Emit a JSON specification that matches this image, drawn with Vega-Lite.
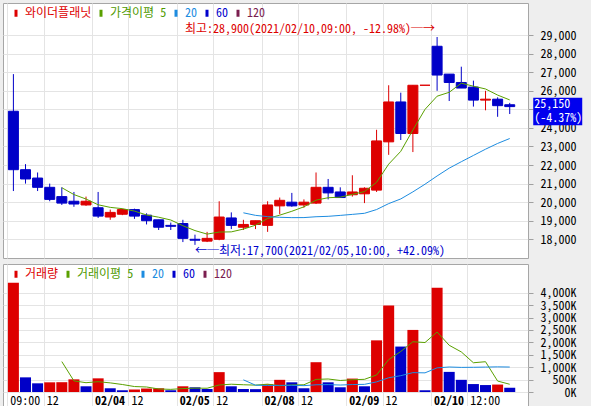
{
  "$schema": "https://vega.github.io/schema/vega-lite/v6.json",
  "background": "#eeeeee",
  "padding": {"left": 2, "top": 2, "right": 8, "bottom": 0},
  "spacing": 4,
  "config": {
    "font": "'Noto Sans Mono CJK KR', 'Noto Sans CJK KR', 'DejaVu Sans Mono', monospace",
    "view": {"fill": "white", "stroke": "#a6a6a6", "strokeWidth": 1},
    "axis": {"labelFontSize": 12, "labelColor": "#000000", "gridColor": "#e4e4e4", "gridWidth": 1, "domain": false, "title": null, "tickColor": "#a0a0a0", "labelOverlap": false, "labelBound": false, "labelFlush": false},
    "legend": {"orient": "top-left", "offset": 4, "direction": "horizontal", "symbolType": "M0,-1V1", "symbolSize": 49, "symbolStrokeWidth": 3, "symbolOffset": 3, "labelOffset": 3, "columnPadding": 0, "labelFontSize": 12, "padding": 0, "labelLimit": 200}
  },
  "datasets": {
    "candles": [
      {"i":0,"t":"02/03 09:00","o":24900,"h":26900,"l":20600,"c":21750,"v":4400000,"vdir":"up"},
      {"i":1,"t":"02/03 10:00","o":21750,"h":22050,"l":21000,"c":21250,"v":590000,"vdir":"down"},
      {"i":2,"t":"02/03 11:00","o":21300,"h":21600,"l":20600,"c":20800,"v":350000,"vdir":"down"},
      {"i":3,"t":"02/03 12:00","o":20800,"h":21000,"l":20050,"c":20150,"v":390000,"vdir":"up"},
      {"i":4,"t":"02/03 13:00","o":20300,"h":20800,"l":19850,"c":19950,"v":395000,"vdir":"up"},
      {"i":5,"t":"02/03 14:00","o":20050,"h":20550,"l":19750,"c":19900,"v":510000,"vdir":"up"},
      {"i":6,"t":"02/03 15:00","o":19850,"h":20300,"l":19800,"c":20050,"v":230000,"vdir":"down"},
      {"i":7,"t":"02/04 09:00","o":19700,"h":20550,"l":19150,"c":19250,"v":550000,"vdir":"up"},
      {"i":8,"t":"02/04 10:00","o":19200,"h":19600,"l":19050,"c":19450,"v":150000,"vdir":"down"},
      {"i":9,"t":"02/04 11:00","o":19350,"h":19650,"l":19300,"c":19600,"v":70000,"vdir":"down"},
      {"i":10,"t":"02/04 12:00","o":19600,"h":19650,"l":19100,"c":19250,"v":100000,"vdir":"up"},
      {"i":11,"t":"02/04 13:00","o":19300,"h":19400,"l":18800,"c":19000,"v":140000,"vdir":"up"},
      {"i":12,"t":"02/04 14:00","o":19050,"h":19050,"l":18500,"c":18650,"v":150000,"vdir":"up"},
      {"i":13,"t":"02/04 15:00","o":18750,"h":18900,"l":18500,"c":18700,"v":70000,"vdir":"down"},
      {"i":14,"t":"02/05 09:00","o":18850,"h":19050,"l":17850,"c":18050,"v":230000,"vdir":"up"},
      {"i":15,"t":"02/05 10:00","o":18000,"h":18250,"l":17700,"c":17950,"v":190000,"vdir":"down"},
      {"i":16,"t":"02/05 11:00","o":17900,"h":18400,"l":17850,"c":18050,"v":120000,"vdir":"down"},
      {"i":17,"t":"02/05 12:00","o":18000,"h":20050,"l":17950,"c":19200,"v":800000,"vdir":"up"},
      {"i":18,"t":"02/05 13:00","o":19150,"h":19450,"l":18550,"c":18750,"v":230000,"vdir":"down"},
      {"i":19,"t":"02/05 14:00","o":18650,"h":19050,"l":18500,"c":18800,"v":120000,"vdir":"down"},
      {"i":20,"t":"02/05 15:00","o":18800,"h":19000,"l":18550,"c":19000,"v":115000,"vdir":"down"},
      {"i":21,"t":"02/08 09:00","o":18750,"h":20050,"l":18400,"c":19850,"v":310000,"vdir":"up"},
      {"i":22,"t":"02/08 10:00","o":19800,"h":20250,"l":19350,"c":20100,"v":490000,"vdir":"up"},
      {"i":23,"t":"02/08 11:00","o":20000,"h":20500,"l":19750,"c":19800,"v":390000,"vdir":"down"},
      {"i":24,"t":"02/08 12:00","o":19850,"h":20150,"l":19700,"c":20000,"v":150000,"vdir":"down"},
      {"i":25,"t":"02/08 13:00","o":19950,"h":21600,"l":19900,"c":20800,"v":1200000,"vdir":"up"},
      {"i":26,"t":"02/08 14:00","o":20800,"h":21250,"l":20150,"c":20500,"v":390000,"vdir":"down"},
      {"i":27,"t":"02/08 15:00","o":20550,"h":20800,"l":20250,"c":20250,"v":190000,"vdir":"down"},
      {"i":28,"t":"02/09 09:00","o":20400,"h":21450,"l":20300,"c":20550,"v":540000,"vdir":"up"},
      {"i":29,"t":"02/09 10:00","o":20450,"h":20800,"l":19950,"c":20750,"v":230000,"vdir":"down"},
      {"i":30,"t":"02/09 11:00","o":20650,"h":23900,"l":20550,"c":23300,"v":2080000,"vdir":"up"},
      {"i":31,"t":"02/09 12:00","o":23250,"h":26300,"l":22550,"c":25400,"v":3480000,"vdir":"up"},
      {"i":32,"t":"02/09 13:00","o":25400,"h":25900,"l":23350,"c":23700,"v":1830000,"vdir":"down"},
      {"i":33,"t":"02/09 14:00","o":23700,"h":26300,"l":22700,"c":26300,"v":2500000,"vdir":"up"},
      {"i":34,"t":"02/09 15:00","o":26300,"h":26300,"l":26300,"c":26300,"v":70000,"vdir":"down"},
      {"i":35,"t":"02/10 09:00","o":28400,"h":28900,"l":26000,"c":26850,"v":4200000,"vdir":"up"},
      {"i":36,"t":"02/10 10:00","o":26900,"h":26900,"l":25450,"c":26450,"v":810000,"vdir":"down"},
      {"i":37,"t":"02/10 11:00","o":26450,"h":27300,"l":26150,"c":26150,"v":490000,"vdir":"down"},
      {"i":38,"t":"02/10 12:00","o":26200,"h":26550,"l":25150,"c":25500,"v":320000,"vdir":"down"},
      {"i":39,"t":"02/10 13:00","o":25500,"h":26000,"l":24950,"c":25550,"v":280000,"vdir":"down"},
      {"i":40,"t":"02/10 14:00","o":25550,"h":25650,"l":24600,"c":25200,"v":300000,"vdir":"up"},
      {"i":41,"t":"02/10 15:00","o":25250,"h":25350,"l":24750,"c":25150,"v":170000,"vdir":"down"}
    ],
    "hi": [{"i":35,"p":28900,"label":"최고:28,900(2021/02/10,09:00, -12.98%)─→"}],
    "lo": [{"i":15,"p":17700,"label":"←─최저:17,700(2021/02/05,10:00, +42.09%)"}],
    "last": [{"i":41,"c":25150,"label":"25,150\n(-4.37%)"}]
  },
  "vconcat": [
    {
      "width": 525,
      "height": 255,
      "data": {"name": "candles"},
      "encoding": {
        "x": {"field": "i", "type": "quantitative", "scale": {"domain": [-0.4457, 42.096], "nice": false, "zero": false},
              "axis": {"orient": "bottom", "values": [-0.5, 2.5, 6.5, 9.5, 13.5, 16.5, 20.5, 23.5, 27.5, 30.5, 34.5, 37.5], "grid": true, "labels": false, "ticks": false, "domain": false}}
      },
      "layer": [
        {
          "mark": {"type": "rule", "strokeWidth": 1},
          "encoding": {
            "y": {"field": "l", "type": "quantitative", "scale": {"domain": [16992, 30732], "nice": false, "zero": false},
                  "axis": {"orient": "right", "values": [18000,19000,20000,21000,22000,23000,24000,25000,26000,27000,28000,29000], "labelExpr": "format(datum.value, ',')", "tickSize": 5, "labelPadding": 43, "labelAlign": "right", "labelBaseline": "middle", "grid": true, "labelOverlap": false, "labelBound": false}},
            "y2": {"field": "h"},
            "stroke": {"condition": {"test": "datum.c >= datum.o", "value": "#dd0000"}, "value": "#0000c8"}
          }
        },
        {
          "mark": {"type": "bar", "width": 10, "strokeWidth": 1},
          "encoding": {
            "y": {"field": "o", "type": "quantitative",
                  "axis": {"orient": "right", "values": [18000,19000,20000,21000,22000,23000,24000,25000,26000,27000,28000,29000], "labelExpr": "format(datum.value, ',')", "tickSize": 5, "labelPadding": 43, "labelAlign": "right", "labelBaseline": "middle", "grid": true, "labelOverlap": false, "labelBound": false}},
            "y2": {"field": "c"},
            "fill": {"condition": {"test": "datum.c >= datum.o", "value": "#dd0000"}, "value": "#0000c8"},
            "stroke": {"condition": {"test": "datum.c >= datum.o", "value": "#dd0000"}, "value": "#0000c8"}
          }
        },
        {
          "transform": [
            {"window": [{"op": "mean", "field": "c", "as": "ma"}, {"op": "count", "field": "c", "as": "n"}], "frame": [-4, 0], "sort": [{"field": "i", "order": "ascending"}]},
            {"filter": "datum.n >= 5"}
          ],
          "mark": {"type": "line", "strokeWidth": 1},
          "encoding": {
            "y": {"field": "ma", "type": "quantitative",
                  "axis": {"orient": "right", "values": [18000,19000,20000,21000,22000,23000,24000,25000,26000,27000,28000,29000], "labelExpr": "format(datum.value, ',')", "tickSize": 5, "labelPadding": 43, "labelAlign": "right", "labelBaseline": "middle", "grid": true, "labelOverlap": false, "labelBound": false}},
            "stroke": {"datum": "가격이평 5", "type": "nominal",
                       "scale": {"domain": ["와이더플래닛", "가격이평 5", "20", "60", "120"], "range": ["#dd0000", "#5aa000", "#1d8ce0", "#0000cc", "#7b1e4f"]},
                       "legend": {"title": null, "encode": {"labels": {"update": {"fill": {"signal": "['#dd0000','#4f9a00','#1d8ce0','#0000cc','#7b1e4f'][indexof(['와이더플래닛','가격이평 5','20','60','120','거래량','거래이평 5'], datum.label) % 5]"}}}}}}
          }
        },
        {
          "transform": [
            {"window": [{"op": "mean", "field": "c", "as": "ma"}, {"op": "count", "field": "c", "as": "n"}], "frame": [-19, 0], "sort": [{"field": "i", "order": "ascending"}]},
            {"filter": "datum.n >= 20"}
          ],
          "mark": {"type": "line", "strokeWidth": 1},
          "encoding": {
            "y": {"field": "ma", "type": "quantitative",
                  "axis": {"orient": "right", "values": [18000,19000,20000,21000,22000,23000,24000,25000,26000,27000,28000,29000], "labelExpr": "format(datum.value, ',')", "tickSize": 5, "labelPadding": 43, "labelAlign": "right", "labelBaseline": "middle", "grid": true, "labelOverlap": false, "labelBound": false}},
            "stroke": {"datum": "20", "type": "nominal"}
          }
        },
        {
          "data": {"name": "hi"},
          "mark": {"type": "text", "align": "right", "baseline": "middle", "dx": -2, "dy": -8, "fontSize": 12, "fill": "#dd0000"},
          "encoding": {
            "y": {"field": "p", "type": "quantitative",
                  "axis": {"orient": "right", "values": [18000,19000,20000,21000,22000,23000,24000,25000,26000,27000,28000,29000], "labelExpr": "format(datum.value, ',')", "tickSize": 5, "labelPadding": 43, "labelAlign": "right", "labelBaseline": "middle", "grid": true, "labelOverlap": false, "labelBound": false}},
            "text": {"field": "label"}
          }
        },
        {
          "data": {"name": "lo"},
          "mark": {"type": "text", "align": "left", "baseline": "middle", "dx": 0, "dy": 6, "fontSize": 12, "fill": "#0000cc"},
          "encoding": {
            "y": {"field": "p", "type": "quantitative",
                  "axis": {"orient": "right", "values": [18000,19000,20000,21000,22000,23000,24000,25000,26000,27000,28000,29000], "labelExpr": "format(datum.value, ',')", "tickSize": 5, "labelPadding": 43, "labelAlign": "right", "labelBaseline": "middle", "grid": true, "labelOverlap": false, "labelBound": false}},
            "text": {"field": "label"}
          }
        },
        {
          "data": {"name": "last"},
          "mark": {"type": "point", "shape": "M2.35,-0.89H7.25V1.87H2.35Z", "size": 400, "filled": true, "fill": "#0000ee", "opacity": 1, "strokeWidth": 0},
          "encoding": {
            "y": {"field": "c", "type": "quantitative",
                  "axis": {"orient": "right", "values": [18000,19000,20000,21000,22000,23000,24000,25000,26000,27000,28000,29000], "labelExpr": "format(datum.value, ',')", "tickSize": 5, "labelPadding": 43, "labelAlign": "right", "labelBaseline": "middle", "grid": true, "labelOverlap": false, "labelBound": false}}
          }
        },
        {
          "data": {"name": "last"},
          "mark": {"type": "text", "align": "left", "baseline": "top", "dx": 24.5, "dy": -8, "lineBreak": "\n", "lineHeight": 14, "fontSize": 12, "fill": "#ffffff"},
          "encoding": {
            "y": {"field": "c", "type": "quantitative",
                  "axis": {"orient": "right", "values": [18000,19000,20000,21000,22000,23000,24000,25000,26000,27000,28000,29000], "labelExpr": "format(datum.value, ',')", "tickSize": 5, "labelPadding": 43, "labelAlign": "right", "labelBaseline": "middle", "grid": true, "labelOverlap": false, "labelBound": false}},
            "text": {"field": "label"}
          }
        }
      ]
    },
    {
      "width": 525,
      "height": 145,
      "data": {"name": "candles"},
      "encoding": {
        "x": {"field": "i", "type": "quantitative", "scale": {"domain": [-0.4457, 42.096], "nice": false, "zero": false},
              "axis": {"orient": "bottom", "values": [-0.5, 2.5, 6.5, 9.5, 13.5, 16.5, 20.5, 23.5, 27.5, 30.5, 34.5, 37.5],
                       "labelExpr": "['09:00','12','02/04','12','02/05','12','02/08','12','02/09','12','02/10','12:00'][indexof([-0.5,2.5,6.5,9.5,13.5,16.5,20.5,23.5,27.5,30.5,34.5,37.5], datum.value)]",
                       "labelFontWeight": {"condition": {"test": "indexof([6.5,13.5,20.5,27.5,34.5], datum.value) >= 0", "value": "bold"}, "value": "normal"},
                       "grid": true, "ticks": false, "domain": false, "labelAlign": "left", "labelBaseline": "top", "labelPadding": -14, "labelOffset": 2.5, "labelOverlap": false, "labelBound": false}}
      },
      "layer": [
        {
          "mark": {"type": "bar", "width": 11},
          "encoding": {
            "y": {"field": "v", "type": "quantitative", "scale": {"domain": [-684600, 5155000], "nice": false, "zero": false},
                  "axis": {"orient": "right", "values": [0,500000,1000000,1500000,2000000,2500000,3000000,3500000,4000000], "labelExpr": "format(datum.value/1000, ',') + 'K'", "tickSize": 5, "labelPadding": 43, "labelAlign": "right", "labelBaseline": "middle", "grid": true, "labelOverlap": false, "labelBound": false,
                           "encode": {"labels": {"update": {"dy": {"signal": "datum.value === 0 ? -5 : -1.5"}}}}}},
            "y2": {"datum": 0},
            "fill": {"condition": {"test": "datum.vdir === 'up'", "value": "#dd0000"}, "value": "#0000c8"}
          }
        },
        {
          "transform": [
            {"window": [{"op": "mean", "field": "v", "as": "ma"}, {"op": "count", "field": "v", "as": "n"}], "frame": [-4, 0], "sort": [{"field": "i", "order": "ascending"}]},
            {"filter": "datum.n >= 5"}
          ],
          "mark": {"type": "line", "strokeWidth": 1},
          "encoding": {
            "y": {"field": "ma", "type": "quantitative",
                  "axis": {"orient": "right", "values": [0,500000,1000000,1500000,2000000,2500000,3000000,3500000,4000000], "labelExpr": "format(datum.value/1000, ',') + 'K'", "tickSize": 5, "labelPadding": 43, "labelAlign": "right", "labelBaseline": "middle", "grid": true, "labelOverlap": false, "labelBound": false,
                           "encode": {"labels": {"update": {"dy": {"signal": "datum.value === 0 ? -5 : -1.5"}}}}}},
            "stroke": {"datum": "거래이평 5", "type": "nominal",
                       "scale": {"domain": ["거래량", "거래이평 5", "20", "60", "120"], "range": ["#dd0000", "#5aa000", "#1d8ce0", "#0000cc", "#7b1e4f"]},
                       "legend": {"title": null, "encode": {"labels": {"update": {"fill": {"signal": "['#dd0000','#4f9a00','#1d8ce0','#0000cc','#7b1e4f'][indexof(['와이더플래닛','가격이평 5','20','60','120','거래량','거래이평 5'], datum.label) % 5]"}}}}}}
          }
        },
        {
          "transform": [
            {"window": [{"op": "mean", "field": "v", "as": "ma"}, {"op": "count", "field": "v", "as": "n"}], "frame": [-19, 0], "sort": [{"field": "i", "order": "ascending"}]},
            {"filter": "datum.n >= 20"}
          ],
          "mark": {"type": "line", "strokeWidth": 1},
          "encoding": {
            "y": {"field": "ma", "type": "quantitative",
                  "axis": {"orient": "right", "values": [0,500000,1000000,1500000,2000000,2500000,3000000,3500000,4000000], "labelExpr": "format(datum.value/1000, ',') + 'K'", "tickSize": 5, "labelPadding": 43, "labelAlign": "right", "labelBaseline": "middle", "grid": true, "labelOverlap": false, "labelBound": false,
                           "encode": {"labels": {"update": {"dy": {"signal": "datum.value === 0 ? -5 : -1.5"}}}}}},
            "stroke": {"datum": "20", "type": "nominal"}
          }
        }
      ]
    }
  ],
  "resolve": {"scale": {"stroke": "independent"}, "legend": {"stroke": "independent"}}
}
